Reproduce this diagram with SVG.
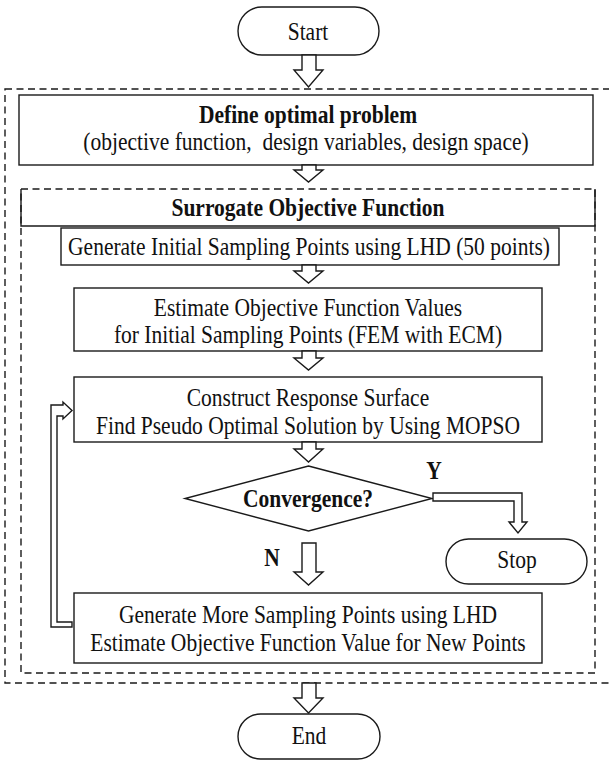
<svg xmlns="http://www.w3.org/2000/svg" width="609" height="760" viewBox="0 0 609 760">
<style>
.box{fill:#fff;stroke:#1a1a1a;stroke-width:1.4}
.dash{fill:none;stroke:#1a1a1a;stroke-width:1.4;stroke-dasharray:7 4.5}
.arr{fill:#fff;stroke:#1a1a1a;stroke-width:1.4;stroke-linejoin:miter}
.line{fill:none;stroke:#1a1a1a;stroke-width:1.4}
text{font-family:"Liberation Serif","Times New Roman",serif;font-size:21.5px;fill:#111;text-anchor:middle;white-space:pre;transform-box:fill-box;transform-origin:center;transform:scaleY(1.13)}
.b{font-weight:bold}
</style>
<rect width="609" height="760" fill="#fff"/>
<g id="containers">
<rect class="dash" x="5" y="89" width="620" height="594"/>
<rect class="dash" x="21" y="189" width="574" height="484"/>
</g>
<g id="start"><rect class="box" x="238" y="7" width="141" height="48" rx="24"/><text x="308" y="39">Start</text></g>
<g id="define"><rect class="box" x="19" y="95" width="574" height="70"/><text class="b" x="308" y="122">Define optimal problem</text><text x="306" y="149">(objective function,  design variables, design space)</text></g>
<g id="surrogate"><path class="line" d="M21,189 V226 H595 V189"/><text class="b" x="308" y="215">Surrogate Objective Function</text></g>
<g id="gen-initial"><rect class="box" x="61" y="228" width="498" height="37"/><text x="309" y="254">Generate Initial Sampling Points using LHD (50 points)</text></g>
<g id="estimate"><rect class="box" x="74" y="288" width="468" height="63"/><text x="308" y="315">Estimate Objective Function Values</text><text x="308" y="342">for Initial Sampling Points (FEM with ECM)</text></g>
<g id="construct"><rect class="box" x="74" y="377" width="468" height="65"/><text x="308" y="405">Construct Response Surface</text><text x="308" y="433">Find Pseudo Optimal Solution by Using MOPSO</text></g>
<g id="convergence"><polygon class="box" points="308.5,466 432,498.5 308.5,531 185,498.5"/><text class="b" x="308" y="506">Convergence?</text></g>
<g id="stop"><rect class="box" x="446" y="539" width="141" height="45" rx="22.5"/><text x="517" y="567">Stop</text></g>
<g id="gen-more"><rect class="box" x="74" y="593" width="468" height="70"/><text x="308" y="622">Generate More Sampling Points using LHD</text><text x="308" y="650">Estimate Objective Function Value for New Points</text></g>
<g id="end"><rect class="box" x="238" y="714" width="142" height="45" rx="22.5"/><text x="309" y="743">End</text></g>
<g id="connectors">
<polygon class="arr" points="302,55 316,55 316,70 323,70 308.5,87 294,70 302,70"/>
<polygon class="arr" points="302,165 316,165 316,170 323,170 308.5,182 294,170 302,170"/>
<polygon class="arr" points="302,265 316,265 316,271 323,271 308.5,283 294,271 302,271"/>
<polygon class="arr" points="302,351 316,351 316,358 323,358 308.5,370 294,358 302,358"/>
<polygon class="arr" points="302,442 316,442 316,449 323,449 308.5,462 294,449 302,449"/>
<polygon class="arr" points="302,543 316,543 316,572 323,572 308.5,585 294,572 302,572"/>
<polygon class="arr" points="302,683 316,683 316,698 323,698 308.5,713 294,698 302,698"/>
<polygon class="arr" points="433,493 522,493 522,522 527,522 518,533 509,522 514,522 514,501 433,501"/>
<polygon class="arr" points="72,627 51,627 51,405 63,405 63,402 72,410.5 63,419 63,416 57,416 57,622 72,622"/>
<text class="b" x="434" y="478">Y</text>
<text class="b" x="272" y="565">N</text>
</g>
</svg>
